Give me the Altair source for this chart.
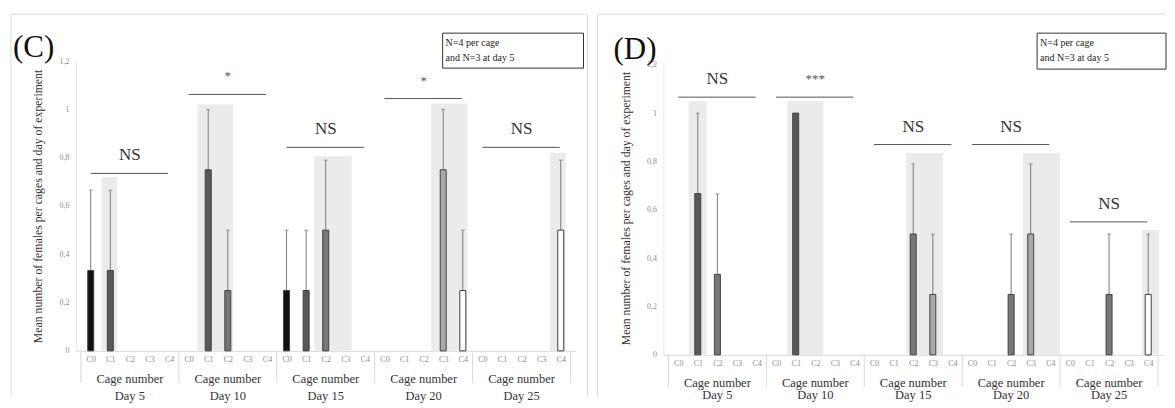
import altair as alt
import pandas as pd

days = ["Day 5", "Day 10", "Day 15", "Day 20", "Day 25"]
cages = ["C0", "C1", "C2", "C3", "C4"]
y_ticks = [0, 0.2, 0.4, 0.6, 0.8, 1, 1.2]
y_title = "Mean number of females per cages and day of experiment"
note_lines = ["N=4 per cage", "and N=3 at day 5"]

# Panel (C): mean per [day][cage] and upper error
c_mean = [
    [0.333, 0.333, 0, 0, 0],
    [0, 0.75, 0.25, 0, 0],
    [0.25, 0.25, 0.5, 0, 0],
    [0, 0, 0, 0.75, 0.25],
    [0, 0, 0, 0, 0.5],
]
c_err = [
    [0.333, 0.333, 0, 0, 0],
    [0, 0.25, 0.25, 0, 0],
    [0.25, 0.25, 0.29, 0, 0],
    [0, 0, 0, 0.25, 0.25],
    [0, 0, 0, 0, 0.29],
]
c_sig = ["NS", "*", "NS", "*", "NS"]
c_sig_y = [0.735, 1.062, 0.843, 1.045, 0.843]
c_shade_from = [0.55, 0.46, 1.42, 2.39, 3.45]
c_shade_to = [1.35, 2.27, 3.33, 4.24, 4.25]
c_shade_top = [0.72, 1.02, 0.806, 1.025, 0.82]

# Panel (D)
d_mean = [
    [0, 0.667, 0.333, 0, 0],
    [0, 1.0, 0, 0, 0],
    [0, 0, 0.5, 0.25, 0],
    [0, 0, 0.25, 0.5, 0],
    [0, 0, 0.25, 0, 0.25],
]
d_err = [
    [0, 0.333, 0.333, 0, 0],
    [0, 0, 0, 0, 0],
    [0, 0, 0.29, 0.25, 0],
    [0, 0, 0.25, 0.29, 0],
    [0, 0, 0.25, 0, 0.25],
]
d_sig = ["NS", "***", "NS", "NS", "NS"]
d_sig_y = [1.066, 1.066, 0.87, 0.87, 0.55]
d_shade_from = [0.54, 0.57, 1.64, 2.61, 3.68]
d_shade_to = [1.44, 2.41, 3.53, 4.5, 4.55]
d_shade_top = [1.05, 1.05, 0.835, 0.835, 0.517]

SERIF = "Liberation Serif"
BAR_COLORS = ["#111111", "#585858", "#777777", "#a8a8a8", "#ffffff"]


def make_panel(label, mean, err, sig, sig_y, sh_from, sh_to, sh_top,
               height, ymax, deco):
    n = len(cages)
    bars = []
    for di, d in enumerate(days):
        for ci, c in enumerate(cages):
            if mean[di][ci] > 0:
                bars.append({"day": d, "cage": c, "pos": di * n + ci,
                             "mean": mean[di][ci],
                             "top": mean[di][ci] + err[di][ci],
                             "err": err[di][ci]})
    bars = pd.DataFrame(bars)
    errs = bars[bars["err"] > 0]

    groups = pd.DataFrame({
        "day": days,
        "center": [i * n + (n - 1) / 2 for i in range(len(days))],
        "sig": sig,
        "sig_y": sig_y,
        "line_lo": [i * n + 0.0 for i in range(len(days))],
        "line_hi": [i * n + 3.95 for i in range(len(days))],
        "sh_lo": [i * n + v for i, v in enumerate(sh_from)],
        "sh_hi": [i * n + v for i, v in enumerate(sh_to)],
        "sh_top": sh_top,
    })
    seps = pd.DataFrame({"b": [i * n - 0.5 for i in range(len(days) + 1)]})
    one = pd.DataFrame({"k": [0]})

    xscale = alt.Scale(domain=[-0.5, len(days) * n - 0.5], nice=False, zero=False)
    yscale = alt.Scale(domain=[0, ymax], nice=False, zero=True)
    xaxis = alt.Axis(values=list(range(len(days) * n)),
                     labelExpr="'C' + (datum.value % 5)",
                     labelColor="#8c8c8c", labelFontSize=8, labelFont=SERIF,
                     ticks=False, grid=False, domainColor="#d9d9d9",
                     labelPadding=5, title=None, labelAngle=0)
    yaxis = alt.Axis(values=y_ticks, format="~g",
                     labelExpr="replace(datum.label, '.', ',')",
                     labelColor="#8c8c8c", labelFontSize=8, labelFont=SERIF,
                     ticks=False, grid=False, domainColor="#e6e6e6",
                     labelPadding=7, title=y_title, titleFont=SERIF,
                     titleFontSize=11.8, titleFontWeight="normal",
                     titleColor="#333333", titlePadding=15)

    def X(f):
        return alt.X(f, type="quantitative", scale=xscale, axis=xaxis)

    def Y(f):
        return alt.Y(f, type="quantitative", scale=yscale, axis=yaxis)

    shade = alt.Chart(groups).mark_rect(color="#ebebeb").encode(
        x=X("sh_lo"), x2="sh_hi", y=Y("sh_top"), y2=alt.datum(0))
    err_rule = alt.Chart(errs).mark_rule(color="#7a7a7a", strokeWidth=1).encode(
        x=X("pos"), y=Y("mean"), y2="top")
    err_cap = alt.Chart(errs).mark_tick(color="#7a7a7a", thickness=1, size=4,
                                        orient="horizontal").encode(
        x=X("pos"), y=Y("top"))
    bar = alt.Chart(bars).mark_bar(size=6, stroke="#404040", strokeWidth=1).encode(
        x=X("pos"), y=Y("mean"),
        color=alt.Color("cage:N", scale=alt.Scale(domain=cages, range=BAR_COLORS),
                        legend=None))
    sig_line = alt.Chart(groups).mark_rule(color="#555555", strokeWidth=1).encode(
        x=X("line_lo"), x2="line_hi", y=Y("sig_y"))
    sig_text = alt.Chart(groups).mark_text(font=SERIF, baseline="middle", dy=-18).encode(
        x=X("center"), y=Y("sig_y"), text="sig:N",
        size=alt.condition("datum.sig == 'NS'", alt.value(17), alt.value(13)),
        color=alt.condition("datum.sig == 'NS'", alt.value("#333333"), alt.value("#555555")))
    cage_txt = alt.Chart(groups).mark_text(font=SERIF, fontSize=12.5, color="#333333",
                                           baseline="middle").encode(
        x=X("center"), y=alt.value(deco["cage_y"]), text=alt.value("Cage number"))
    day_txt = alt.Chart(groups).mark_text(font=SERIF, fontSize=12.5, color="#333333",
                                          baseline="middle").encode(
        x=X("center"), y=alt.value(deco["day_y"]), text="day:N")
    sep = alt.Chart(seps).mark_rule(color="#d9d9d9", strokeWidth=1).encode(
        x=X("b"), y=alt.value(height), y2=alt.value(height + 32))

    lab = alt.Chart(one).mark_text(font=SERIF, fontSize=31, color="#111111",
                                   align="left", baseline="alphabetic").encode(
        x=alt.value(deco["lab_x"]), y=alt.value(deco["lab_y"]), text=alt.value(label))
    note_box = alt.Chart(one).mark_rect(fill="white", stroke="#333333", strokeWidth=1).encode(
        x=alt.value(deco["box"][0]), x2=alt.value(deco["box"][1]),
        y=alt.value(deco["box"][2]), y2=alt.value(deco["box"][3]))
    note_txt = alt.Chart(one).mark_text(font=SERIF, fontSize=10, color="#222222",
                                        align="left", baseline="top", lineHeight=15).encode(
        x=alt.value(deco["box"][0] + 3), y=alt.value(deco["box"][2] + 5),
        text=alt.value(note_lines))
    bl, br, bt, bb = deco["border"]
    border_top = alt.Chart(one).mark_rule(color="#dcdcdc").encode(
        x=alt.value(bl), x2=alt.value(br), y=alt.value(bt))
    border_left = alt.Chart(one).mark_rule(color="#dcdcdc").encode(
        x=alt.value(bl), y=alt.value(bt), y2=alt.value(bb))
    layers = [shade, err_rule, err_cap, bar, sig_line, sig_text, cage_txt,
              day_txt, sep, lab, note_box, note_txt, border_top, border_left]
    if deco.get("right_border"):
        layers.append(alt.Chart(one).mark_rule(color="#dcdcdc").encode(
            x=alt.value(br), y=alt.value(bt), y2=alt.value(bb)))
    return alt.layer(*layers).properties(width=500, height=height)


c_chart = make_panel("(C)", c_mean, c_err, c_sig, c_sig_y, c_shade_from,
                     c_shade_to, c_shade_top, 290, 1.2,
                     {"cage_y": 318, "day_y": 335, "lab_x": -63, "lab_y": -4,
                      "box": [367, 508, -28, 7], "border": [-65, 512, -47, 336],
                      "right_border": True})
d_chart = make_panel("(D)", d_mean, d_err, d_sig, d_sig_y, d_shade_from,
                     d_shade_to, d_shade_top, 294, 1.215,
                     {"cage_y": 322, "day_y": 334, "lab_x": -50, "lab_y": -2,
                      "box": [374, 503, -28, 8], "border": [-66, 503, -47, 336]})

chart = alt.hconcat(c_chart, d_chart, spacing=88, bounds="flush").properties(
    padding={"left": 2, "top": 5, "right": 0, "bottom": 0},
    background="white",
).configure_view(stroke=None)

chart.save("out.html", embed_options={"renderer": "svg", "actions": False})
